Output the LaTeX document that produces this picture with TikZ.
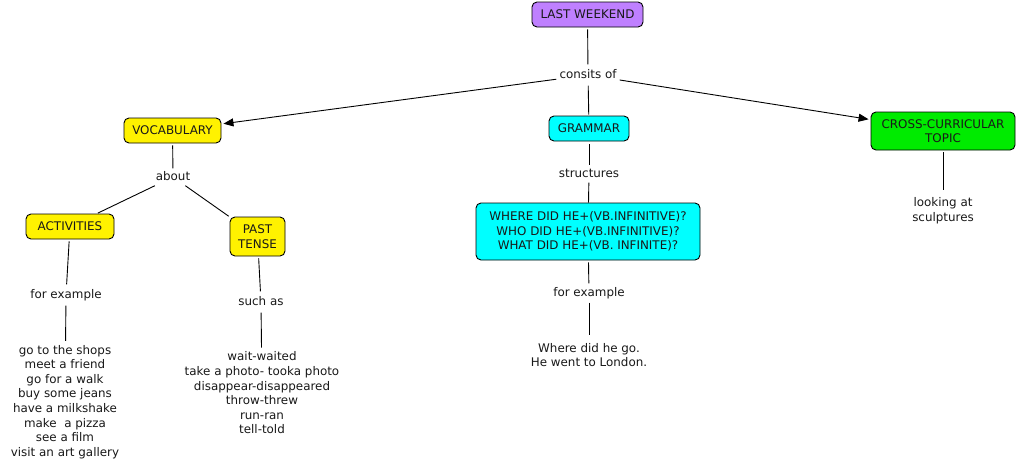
\documentclass[tikz,border=0pt]{standalone}
\usepackage{fontspec}
\setmainfont{DejaVu Sans}
\usetikzlibrary{arrows.meta}
\definecolor{lwpurple}{RGB}{191,128,255}
\definecolor{cyanbox}{RGB}{0,255,255}
\definecolor{greenbox}{RGB}{0,235,0}
\definecolor{ink}{RGB}{25,25,25}
\tikzset{
  concept/.style={draw=black, line width=0.9pt, rounded corners=5pt, inner sep=0pt,
    align=center, text=ink, font=\fontsize{11.9}{14.6}\selectfont},
  linkword/.style={inner xsep=3pt, inner ysep=3pt, text height=8.5pt, text depth=2.5pt,
    align=center, text=ink, font=\fontsize{11.9}{14.6}\selectfont},
  listtext/.style={inner sep=4pt, align=center, text=ink, font=\fontsize{11.9}{14.6}\selectfont},
  conn/.style={draw=black, line width=0.9pt},
  arr/.style={conn, -{Triangle[length=10pt,width=8pt]}, shorten >=2pt}
}
\begin{document}
\begin{tikzpicture}[x=1pt,y=-1pt]
\useasboundingbox[fill=white] (0,0) rectangle (1017,469);

% concepts
\node[concept, fill=lwpurple, minimum width=111pt, minimum height=25pt] (lw) at (587.5,14.5) {LAST WEEKEND};
\node[concept, fill=yellow, minimum width=97pt, minimum height=25pt] (voc) at (172.5,130.5) {VOCABULARY};
\node[concept, fill=yellow, minimum width=88pt, minimum height=25pt] (act) at (70,226.5) {ACTIVITIES};
\node[concept, fill=yellow, minimum width=55pt, minimum height=39pt] (pt) at (257.5,236.5) {PAST\\TENSE};
\node[concept, fill=cyanbox, minimum width=80pt, minimum height=25pt] (gram) at (589,128.5) {GRAMMAR};
\node[concept, fill=cyanbox, minimum width=224pt, minimum height=57pt] (big) at (588,231.5)
  {WHERE DID HE+(VB.INFINITIVE)?\\WHO DID HE+(VB.INFINITIVE)?\\WHAT DID HE+(VB. INFINITE)?};
\node[concept, fill=greenbox, minimum width=144pt, minimum height=38pt] (cc) at (943,131) {CROSS-CURRICULAR\\TOPIC};

% linking words
\node[linkword, inner ysep=5pt] (consists) at (588,75) {consits of};
\node[linkword] (about) at (173,177) {about};
\node[linkword, inner ysep=5pt] (fe1) at (66,295) {for example};
\node[linkword, inner ysep=5pt] (such) at (261,302) {such as};
\node[linkword] (struct) at (589,174) {structures};
\node[linkword, inner ysep=4pt] (fe2) at (589,293) {for example};

% leaf texts
\node[listtext] (actlist) at (65,402) {go to the shops\\meet a friend\\go for a walk\\buy some jeans\\have a milkshake\\make\ \ a pizza\\see a film\\visit an art gallery};
\node[listtext] (ptlist) at (262,393) {wait-waited\\take a photo- tooka photo\\disappear-disappeared\\throw-threw\\run-ran\\tell-told};
\node[listtext, inner sep=8pt] (gex) at (589,355) {Where did he go.\\He went to London.};
\node[listtext, inner sep=8pt] (look) at (943,211) {looking at\\sculptures};

% connectors
\draw[conn, shorten <=2pt] (lw) -- (consists);
\draw[arr] (consists) -- (voc);
\draw[conn, shorten >=1pt] (consists) -- (gram);
\draw[arr] (consists) -- (cc);

\draw[conn, shorten <=2pt] (voc) -- (about);
\draw[conn, shorten >=1pt] (about) -- (act);
\draw[conn, shorten >=1pt] (about) -- (pt);

\draw[conn, shorten <=2pt] (act) -- (fe1);
\draw[conn] (fe1) -- (actlist);
\draw[conn, shorten <=2pt] (pt) -- (such);
\draw[conn] (such) -- (ptlist);

\draw[conn, shorten <=3pt] (gram) -- (struct);
\draw[conn] (struct) -- (big);
\draw[conn, shorten <=2pt] (big) -- (fe2);
\draw[conn] (fe2) -- (gex);

\draw[conn, shorten <=2pt] (cc) -- (look);
\end{tikzpicture}
\end{document}
